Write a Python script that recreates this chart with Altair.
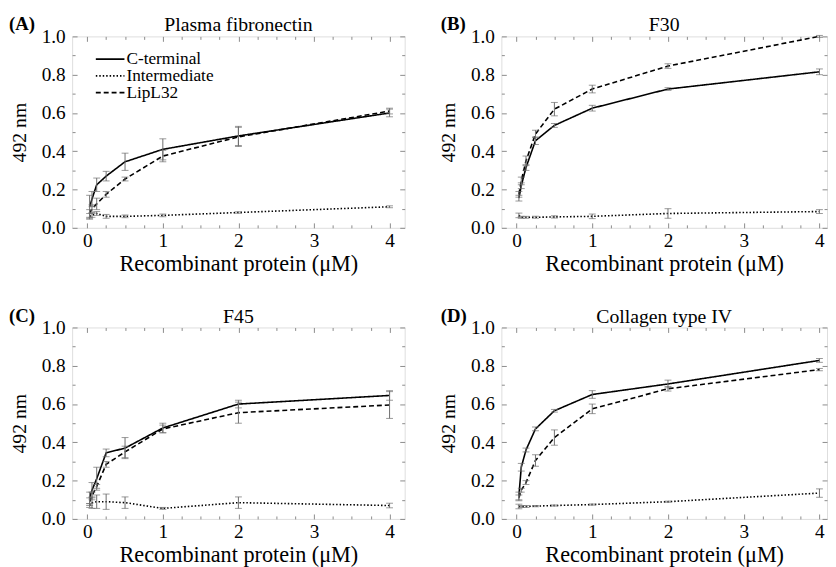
import altair as alt
import pandas as pd

FONT = "Liberation Serif"
GRAY = "#8a8a8a"
EGRAY = "#6e6e6e"

conc = [0.03125, 0.0625, 0.125, 0.25, 0.5, 1, 2, 4]
series = ["C-terminal", "Intermediate", "LipL32"]
panel_titles = ["Plasma fibronectin", "F30", "F45", "Collagen type IV"]
panel_labels = ["(A)", "(B)", "(C)", "(D)"]

x_major = [0, 1, 2, 3, 4]
x_minor = [0.25, 0.5, 0.75, 1.25, 1.5, 1.75, 2.25, 2.5, 2.75, 3.25, 3.5, 3.75]
y_major = [0.0, 0.2, 0.4, 0.6, 0.8, 1.0]
y_minor = [0.1, 0.3, 0.5, 0.7, 0.9]

# (A) Plasma fibronectin
A_ct = [0.11, 0.15, 0.225, 0.27, 0.345, 0.41, 0.48, 0.60]
A_ct_err = [0.06, 0.04, 0.035, 0.025, 0.045, 0.055, 0.05, 0.02]
A_int = [0.06, 0.065, 0.075, 0.06, 0.06, 0.065, 0.08, 0.11]
A_int_err = [0.015, 0.01, 0.01, 0.01, 0.007, 0.007, 0.004, 0.005]
A_lip = [0.075, 0.10, 0.125, 0.175, 0.255, 0.375, 0.475, 0.61]
A_lip_err = [0.02, 0.02, 0.03, 0.015, 0.01, 0.03, 0.05, 0.015]

# (B) F30
B_ct = [0.155, 0.22, 0.315, 0.455, 0.535, 0.625, 0.725, 0.815]
B_ct_err = [0.015, 0.015, 0.015, 0.02, 0.01, 0.015, 0.007, 0.015]
B_int = [0.065, 0.055, 0.055, 0.055, 0.057, 0.06, 0.075, 0.085]
B_int_err = [0.012, 0.005, 0.005, 0.005, 0.006, 0.012, 0.025, 0.01]
B_lip = [0.175, 0.245, 0.35, 0.49, 0.62, 0.725, 0.845, 1.0]
B_lip_err = [0.015, 0.02, 0.025, 0.02, 0.035, 0.02, 0.012, 0.005]

# (C) F45
C_ct = [0.11, 0.15, 0.21, 0.345, 0.37, 0.475, 0.60, 0.645]
C_ct_err = [0.03, 0.04, 0.06, 0.02, 0.055, 0.025, 0.02, 0.025]
C_int = [0.07, 0.085, 0.09, 0.09, 0.085, 0.055, 0.085, 0.07]
C_int_err = [0.01, 0.03, 0.035, 0.04, 0.03, 0.005, 0.03, 0.012]
C_lip = [0.09, 0.12, 0.17, 0.285, 0.35, 0.47, 0.555, 0.595]
C_lip_err = [0.02, 0.02, 0.01, 0.015, 0.03, 0.02, 0.055, 0.07]

# (D) Collagen type IV
D_ct = [0.12, 0.27, 0.36, 0.47, 0.565, 0.65, 0.705, 0.828]
D_ct_err = [0.02, 0.02, 0.01, 0.01, 0.007, 0.02, 0.02, 0.01]
D_int = [0.065, 0.065, 0.065, 0.067, 0.07, 0.075, 0.09, 0.135]
D_int_err = [0.012, 0.005, 0.005, 0.003, 0.003, 0.003, 0.003, 0.022]
D_lip = [0.11, 0.15, 0.19, 0.305, 0.425, 0.575, 0.68, 0.78]
D_lip_err = [0.015, 0.01, 0.01, 0.03, 0.04, 0.025, 0.012, 0.006]

panels = [
    (A_ct, A_ct_err, A_int, A_int_err, A_lip, A_lip_err),
    (B_ct, B_ct_err, B_int, B_int_err, B_lip, B_lip_err),
    (C_ct, C_ct_err, C_int, C_int_err, C_lip, C_lip_err),
    (D_ct, D_ct_err, D_int, D_int_err, D_lip, D_lip_err),
]


def make_df(p):
    rows = []
    for name, vals, errs in zip(series, (p[0], p[2], p[4]), (p[1], p[3], p[5])):
        for c, v, e in zip(conc, vals, errs):
            rows.append({"conc": c, "series": name, "value": v, "err": e})
    return pd.DataFrame(rows)


def panel(i, width, xdom, label_x):
    df = make_df(panels[i])
    base = alt.Chart(df).transform_calculate(
        lo="datum.value - datum.err", hi="datum.value + datum.err"
    )
    xs = alt.Scale(domain=xdom, nice=False, zero=False)
    ys = alt.Scale(domain=[0, 1], nice=False, zero=False)

    def X(axis):
        return alt.X("conc:Q", scale=xs, axis=axis)

    def Y(field, axis):
        return alt.Y(field, scale=ys, axis=axis)

    if i == 0:
        legend = alt.Legend(
            orient="none", legendX=23, legendY=15, title=None, padding=0,
            symbolType="stroke", symbolSize=841, symbolStrokeWidth=1.6,
            symbolStrokeColor="black", labelFont=FONT, labelFontSize=17.5,
            labelColor="black", labelOffset=1, clipHeight=16, rowPadding=-2,
        )
    else:
        legend = None

    lines = base.mark_line(color="black", strokeWidth=1.6).encode(
        x=X(alt.Axis(values=x_major, format="d", orient="bottom", ticks=False,
                     tickSize=0, domain=False, grid=False, labelFont=FONT,
                     labelFontSize=19.5, labelColor="black", labelPadding=4,
                     labelFlush=False, labelOverlap=False,
                     title="Recombinant protein (μM)", titleFont=FONT,
                     titleFontSize=22.5, titleFontWeight="normal",
                     titleColor="black", titlePadding=3)),
        y=Y("value:Q", alt.Axis(values=y_major, format=".1f", orient="left",
                                 ticks=False, tickSize=0, domain=False, grid=False,
                                 labelFont=FONT, labelFontSize=19.5,
                                 labelColor="black", labelPadding=7,
                                 labelFlush=False, labelOverlap=False,
                                 title="492 nm", titleFont=FONT, titleFontSize=20,
                                 titleFontWeight="normal", titleColor="black",
                                 titlePadding=12)),
        strokeDash=alt.StrokeDash(
            "series:N",
            scale=alt.Scale(domain=series, range=[[1, 0], [1.5, 2], [5, 3]]),
            legend=legend,
        ),
        order="conc:Q",
    )

    rules = base.mark_rule(color=EGRAY, strokeWidth=1).encode(
        x=X(None), y=Y("lo:Q", None), y2="hi:Q"
    )
    cap_lo = base.mark_tick(orient="horizontal", size=7, thickness=1, color=EGRAY).encode(
        x=X(None), y=Y("lo:Q", None)
    )
    cap_hi = base.mark_tick(orient="horizontal", size=7, thickness=1, color=EGRAY).encode(
        x=X(None), y=Y("hi:Q", None)
    )

    def tick_axis(values, orient, length):
        return alt.Axis(values=values, orient=orient, offset=-length, tickSize=length,
                        ticks=True, labels=False, domain=False, grid=False, title=None,
                        tickColor=GRAY, tickWidth=1)

    axis_layers = []
    for xo, yo in (("bottom", "left"), ("top", "right")):
        for xv, yv, ln in ((x_major, y_major, 5), (x_minor, y_minor, 3)):
            axis_layers.append(
                base.mark_point(opacity=0).encode(
                    x=X(tick_axis(xv, xo, ln)),
                    y=Y("value:Q", tick_axis(yv, yo, ln)),
                )
            )

    lab = alt.Chart(pd.DataFrame({"label": [panel_labels[i]]})).mark_text(
        font=FONT, fontSize=19, fontWeight="bold", align="left", baseline="middle",
        color="black",
    ).encode(x=alt.value(label_x), y=alt.value(-12), text="label:N")

    return alt.layer(lines, rules, cap_lo, cap_hi, *axis_layers, lab).resolve_axis(
        x="independent", y="independent"
    ).properties(
        width=width, height=194,
        title=alt.TitleParams(panel_titles[i], font=FONT, fontSize=20,
                              fontWeight="normal", color="black", anchor="middle",
                              offset=-20),
    )


LW, RW = 337, 330
LDOM, RDOM = [-0.2, 4.2], [-0.2, 4.1]

row1 = alt.hconcat(panel(0, LW, LDOM, -64), panel(1, RW, RDOM, -61.5), spacing=33)
row2 = alt.hconcat(panel(2, LW, LDOM, -64), panel(3, RW, RDOM, -61.5), spacing=33)
for r in (row1, row2):
    r.resolve_scale(x="independent", y="independent", strokeDash="independent")

chart = alt.vconcat(row1, row2, spacing=30).resolve_scale(
    x="independent", y="independent", strokeDash="independent"
).resolve_legend(strokeDash="independent").properties(
    padding={"left": 0, "top": 3, "right": 0, "bottom": 0}
).configure_view(stroke=GRAY, strokeWidth=1).configure(background="white")

chart.save("out.html", embed_options={"renderer": "svg", "actions": False})
